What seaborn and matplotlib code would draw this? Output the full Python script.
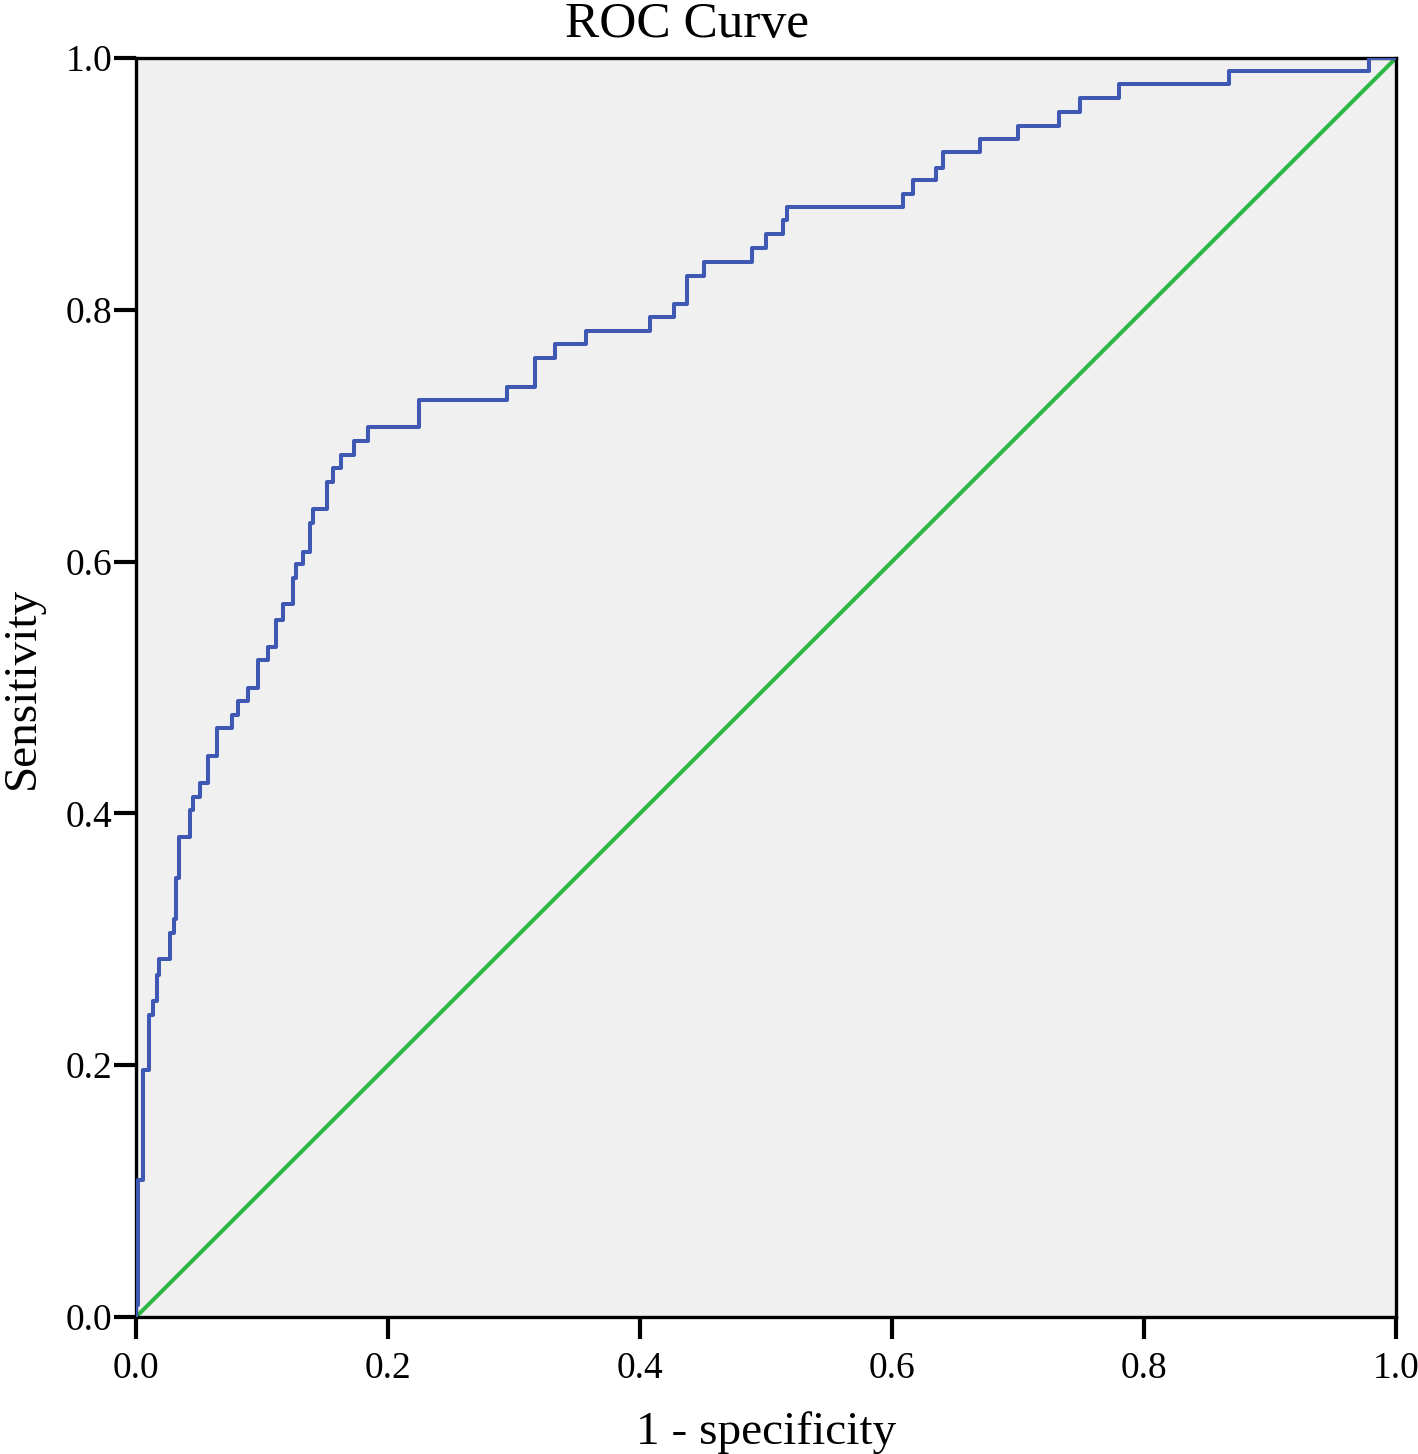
import numpy as np
import pandas as pd
import matplotlib
matplotlib.use('Agg')
import matplotlib.pyplot as plt
import seaborn as sns

# ROC points (1 - specificity, sensitivity)
fpr = [0.0, 0.0, 0.0016, 0.0056, 0.0103, 0.0135, 0.0167, 0.0183, 0.027, 0.030,
       0.032, 0.034, 0.043, 0.045, 0.051, 0.057, 0.064, 0.076, 0.081, 0.089,
       0.097, 0.105, 0.111, 0.117, 0.125, 0.127, 0.1325, 0.138, 0.1405, 0.1516,
       0.156, 0.163, 0.173, 0.184, 0.2246, 0.2944, 0.3167, 0.3325, 0.357, 0.408,
       0.427, 0.437, 0.451, 0.489, 0.500, 0.5135, 0.5167, 0.6087, 0.6167, 0.635,
       0.6405, 0.670, 0.700, 0.7325, 0.749, 0.780, 0.8675, 0.9786, 1.0]
tpr = [0.0, 0.0095, 0.109, 0.196, 0.240, 0.251, 0.272, 0.284, 0.305, 0.316,
       0.349, 0.381, 0.403, 0.413, 0.424, 0.446, 0.468, 0.478, 0.489, 0.500,
       0.522, 0.532, 0.554, 0.566, 0.587, 0.598, 0.608, 0.631, 0.642, 0.663,
       0.674, 0.685, 0.696, 0.707, 0.728, 0.739, 0.762, 0.773, 0.783, 0.794,
       0.805, 0.827, 0.838, 0.849, 0.860, 0.871, 0.882, 0.892, 0.903, 0.913,
       0.925, 0.936, 0.946, 0.957, 0.968, 0.979, 0.990, 1.0, 1.0]
ref_x = [0.0, 1.0]
ref_y = [0.0, 1.0]
ticks = [0.0, 0.2, 0.4, 0.6, 0.8, 1.0]

roc = pd.DataFrame({'fpr': fpr, 'tpr': tpr})
ref = pd.DataFrame({'x': ref_x, 'y': ref_y})

sns.set_style('ticks')
plt.rcParams['font.family'] = ['Liberation Serif', 'DejaVu Serif']
plt.rcParams['text.color'] = 'black'
plt.rcParams['axes.labelcolor'] = 'black'

fig = plt.figure(figsize=(14.18, 14.54), dpi=100)
ax = fig.add_axes([0.0959, 0.0942, 0.8886, 0.8659])
ax.set_facecolor('#F0F0F0')

sns.lineplot(data=roc, x='fpr', y='tpr', ax=ax, estimator=None, sort=False,
             drawstyle='steps-post', color='#3F58B4', linewidth=2.9, zorder=3)
sns.lineplot(data=ref, x='x', y='y', ax=ax, estimator=None, sort=False,
             color='#2DB845', linewidth=2.9, zorder=2)

ax.set_xlim(0, 1)
ax.set_ylim(0, 1)
ax.set_xticks(ticks)
ax.set_yticks(ticks)
ax.set_xticklabels([f'{t:.1f}' for t in ticks])
ax.set_yticklabels([f'{t:.1f}' for t in ticks])
ax.tick_params(axis='both', direction='out', length=16, width=3, colors='black',
               labelcolor='black', labelsize=27)
ax.tick_params(axis='x', pad=9)
ax.tick_params(axis='y', pad=1)
for s in ax.spines.values():
    s.set_visible(True)
    s.set_linewidth(2.4)
    s.set_color('black')

ax.set_xlabel('1 - specificity', fontsize=34, labelpad=18, color='black')
ax.set_ylabel('Sensitivity', fontsize=34, labelpad=16, color='black')
fig.text(687 / 1418, 1 - 37 / 1454, 'ROC Curve', fontsize=37, ha='center',
         va='baseline', color='black')

fig.savefig('out.png', dpi=100, facecolor='white')
